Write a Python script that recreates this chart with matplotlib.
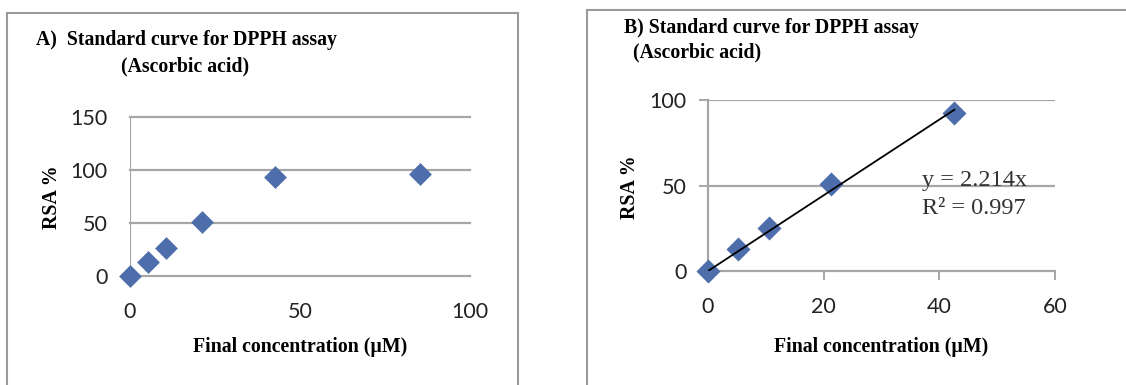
import matplotlib
matplotlib.use("Agg")
import matplotlib.pyplot as plt
from matplotlib.patches import Rectangle

# Data
conc_a = [0, 5.33, 10.66, 21.3, 42.6, 85.3]
rsa_a = [0, 12.8, 26.0, 50.5, 93.0, 96.0]
conc_b = [0, 5.2, 10.5, 21.3, 42.6]
rsa_b = [0, 12.9, 25.2, 50.8, 92.4]
slope_b = 2.214
r2_b = 0.997
xticks_a = [0, 50, 100]
yticks_a = [0, 50, 100, 150]
xticks_b = [0, 20, 40, 60]
yticks_b = [0, 50, 100]

W, H = 1126, 385
fig = plt.figure(figsize=(W / 100, H / 100), dpi=100)

marker_color = "#4d6eaa"
grid_color = "#a6a6a6"
tick_font = "Lato"
serif = "Liberation Serif"

def fx(px):
    return px / W

def fy(py):
    return 1 - py / H

# panel borders
fig.patches.append(Rectangle((fx(7), fy(400)), fx(518 - 7), (400 - 13) / H,
                             transform=fig.transFigure, fill=False,
                             edgecolor="#9a9a9a", lw=1.5))
fig.patches.append(Rectangle((fx(587), fy(400)), fx(1140 - 587), (400 - 10) / H,
                             transform=fig.transFigure, fill=False,
                             edgecolor="#9a9a9a", lw=1.5))

# ---------- Panel A ----------
axA = fig.add_axes([fx(130), fy(276), fx(470 - 130), (276 - 117) / H])
axA.set_xlim(0, 100)
axA.set_ylim(0, 150)
for y in yticks_a:
    axA.axhline(y, color=grid_color, lw=1.6, zorder=1, clip_on=False)
axA.axvline(0, color=grid_color, lw=1.6, zorder=1)
for s in axA.spines.values():
    s.set_visible(False)
axA.set_xticks(xticks_a)
axA.set_yticks(yticks_a)
axA.tick_params(length=0, labelsize=15.5, colors="#222222")
axA.tick_params(axis="y", pad=16)
axA.tick_params(axis="x", pad=19)
for lab in axA.get_xticklabels() + axA.get_yticklabels():
    lab.set_fontfamily(tick_font)
axA.scatter(conc_a, rsa_a, marker="D", s=135, color=marker_color,
            zorder=3, clip_on=False, linewidths=0)
axA.set_facecolor("none")

fig.text(fx(36), fy(40), "A)  Standard curve for DPPH assay", fontsize=14.2,
         fontweight="bold", family=serif, va="center", ha="left")
fig.text(fx(121), fy(66), "(Ascorbic acid)", fontsize=14.2,
         fontweight="bold", family=serif, va="center", ha="left")
fig.text(fx(52), fy(197), "RSA %", fontsize=14.3, fontweight="bold",
         family=serif, rotation=90, va="center", ha="center")
fig.text(fx(300), fy(347), "Final concentration (\u00b5M)", fontsize=14.3,
         fontweight="bold", family=serif, va="center", ha="center")

# ---------- Panel B ----------
axB = fig.add_axes([fx(708), fy(271), fx(1055 - 708), (271 - 100) / H])
axB.set_xlim(0, 60)
axB.set_ylim(0, 100)
for y in yticks_b[1:]:
    axB.axhline(y, color=grid_color, lw=1.6, zorder=1)
for s in ["top", "right"]:
    axB.spines[s].set_visible(False)
axB.spines["left"].set_color(grid_color)
axB.spines["bottom"].set_color(grid_color)
axB.spines["left"].set_linewidth(1.6)
axB.spines["bottom"].set_linewidth(1.6)
axB.set_xticks(xticks_b)
axB.set_yticks(yticks_b)
axB.tick_params(length=6.5, width=1.4, color=grid_color, labelsize=15.5,
                labelcolor="#222222")
axB.tick_params(axis="y", pad=9)
axB.tick_params(axis="x", pad=12)
for lab in axB.get_xticklabels() + axB.get_yticklabels():
    lab.set_fontfamily(tick_font)
axB.scatter(conc_b, rsa_b, marker="D", s=150, color=marker_color,
            zorder=3, clip_on=False, linewidths=0)
xfit = [0, max(conc_b)]
axB.plot(xfit, [slope_b * v for v in xfit], color="black", lw=1.3, zorder=4)
axB.set_facecolor("none")
axB.text(0.617, 0.532, f"y = {slope_b}x", transform=axB.transAxes,
         fontsize=17.5, family=serif, va="center", ha="left", color="#333333")
axB.text(0.617, 0.368, f"R\u00b2 = {r2_b}", transform=axB.transAxes,
         fontsize=17.5, family=serif, va="center", ha="left", color="#333333")

fig.text(fx(624), fy(28), "B) Standard curve for DPPH assay", fontsize=14.2,
         fontweight="bold", family=serif, va="center", ha="left")
fig.text(fx(628), fy(52), " (Ascorbic acid)", fontsize=14.2,
         fontweight="bold", family=serif, va="center", ha="left")
fig.text(fx(630), fy(187), "RSA %", fontsize=14.3, fontweight="bold",
         family=serif, rotation=90, va="center", ha="center")
fig.text(fx(881), fy(347), "Final concentration (\u00b5M)", fontsize=14.3,
         fontweight="bold", family=serif, va="center", ha="center")

fig.savefig("out.png", dpi=100, facecolor="white")
